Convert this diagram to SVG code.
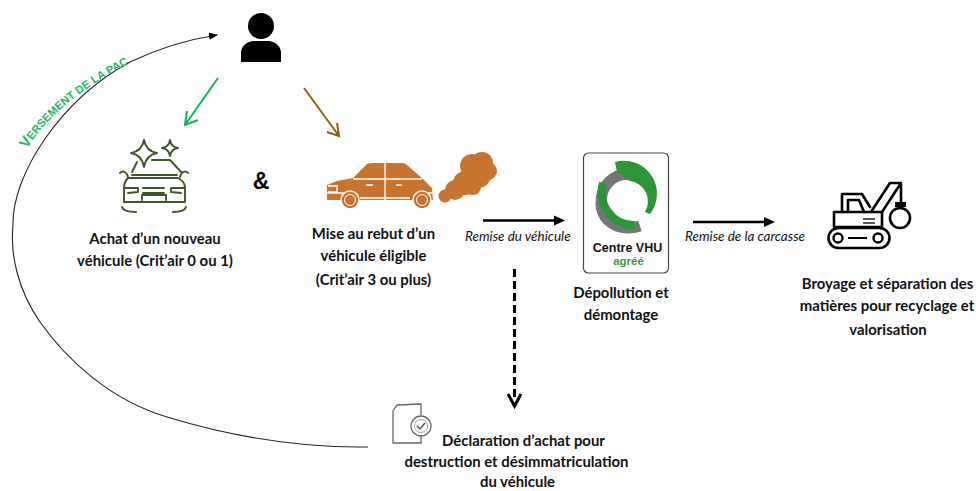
<svg xmlns="http://www.w3.org/2000/svg" width="976" height="491" viewBox="0 0 976 491">
<style>
.t{font-family:"Lato","Open Sans",sans-serif;font-weight:700;font-size:14.900px;fill:#111;text-anchor:middle}
.i{font-family:"Lato","Liberation Sans",sans-serif;font-style:italic;font-size:13.500px;fill:#111}
.g{fill:none;stroke:#3f5626;stroke-width:1.900;stroke-linecap:round;stroke-linejoin:round}
.k{fill:none;stroke:#000;stroke-width:2.600;stroke-linecap:round;stroke-linejoin:round}
.o{fill:#c8742f}
.w{fill:none;stroke:#fff;stroke-width:1.300}
</style>
<defs>
<marker id="blk" markerWidth="9" markerHeight="8" refX="8" refY="4" orient="auto" markerUnits="userSpaceOnUse"><path d="M0 .5L9 4L0 7.500Z" fill="#000"/></marker>
<path id="arc" d="M27 149C47 115 85 85 140 58"/>
</defs>
<rect width="976" height="491" fill="#fff"/>
<g id="connectors">
<path d="M368 447C300 448 233 437 167 417C110 400 67 360 40 322C18 290 10 255 13 225C12 175 60 100 130 62C155 50 185 40 217 35" fill="none" stroke="#222" stroke-width="1.100" marker-end="url(#blk)"/>
<path d="M218 78L185 125M187 111L185 125L198 120" fill="none" stroke="#12b457" stroke-width="2"/>
<path d="M304 88L339 136M337 123L339 136L327 132" fill="none" stroke="#8f6010" stroke-width="2"/>
<path d="M483 220.500L556 220.500" stroke="#000" stroke-width="2.600"/><path d="M554 215.500L565 220.500L554 225.500Z"/>
<path d="M693 222L766 222" stroke="#000" stroke-width="2.600"/><path d="M764 217L775 222L764 227Z"/>
<path d="M514.500 269L514.500 400" stroke="#000" stroke-width="3" stroke-dasharray="8 4" fill="none"/>
<path d="M508 394L514.500 406L521 394" fill="none" stroke="#000" stroke-width="3"/>
</g>
<g id="label-pac"><text font-family="Liberation Sans,sans-serif" font-size="11.200" font-weight="700" fill="#1bb864"><textPath href="#arc"><tspan font-size="15">V</tspan>ERSEMENT  DE LA PAC</textPath></text></g>
<g id="person">
<circle cx="261" cy="26" r="13" fill="#000"/>
<path d="M241 62V53C241 46 247 41 254 41H268C275 41 281 46 281 53V62Z" fill="#000"/>
</g>
<g id="new-car">
<path class="g" d="M144 140Q146 151 157 153Q146 155 144 167Q142 155 131 153Q142 151 144 140Z"/>
<path class="g" d="M170 140Q171 147 178 148Q171 149 170 156Q169 149 162 148Q169 147 170 140Z"/>
<path class="g" d="M132 172L137 162M152 160H170L182 173M132 175H177M120 173C123 170 127 172 128 177M188 173C185 170 181 172 180 177M128 178H178C182 180 185 184 185 188V202H124V188C124 184 125 181 128 178Z"/>
<path class="g" d="M124 188H138V192L128 193M185 188H171V192L181 193M143 188H164M143 193H164M142 200V195H166V200M122 207C123 211 131 212 136 212M173 212C178 212 185 211 186 207"/>
<text class="t" x="155" y="244">Achat d’un nouveau</text>
<text class="t" x="155" y="266">véhicule (Crit’air 0 ou 1)</text>
</g>
<g id="and"><text x="261" y="189" font-family="Liberation Sans,sans-serif" font-weight="700" font-size="23" fill="#000" text-anchor="middle">&amp;</text></g>
<g id="old-car">
<path class="o" d="M327 200V185L337 181L353 178L367 164Q369 163 375 163H402Q405 163 407 165L422 178L432 188L433 200Z"/>
<path class="w" d="M385 163V200M327 193H350M360 198H410M425 193H433M353 179H422M328 186H337V192H328"/>
<circle class="o" cx="350" cy="200" r="9" stroke="#fff" stroke-width="1.500"/><circle cx="350" cy="200" r="5.500" fill="none" stroke="#fff" stroke-width="1"/>
<circle class="o" cx="422" cy="200" r="9" stroke="#fff" stroke-width="1.500"/><circle cx="422" cy="200" r="5.500" fill="none" stroke="#fff" stroke-width="1"/>
<path d="M366 185H373M396 185H402" stroke="#fff" stroke-width="1.500"/>
<g class="o"><circle cx="445" cy="196" r="6.500"/><circle cx="455" cy="190" r="10"/><circle cx="465" cy="183" r="12"/><circle cx="478" cy="175" r="13"/><circle cx="472" cy="166" r="12"/><circle cx="482" cy="163" r="11"/><circle cx="488" cy="171" r="9"/><circle cx="473" cy="187" r="8"/></g>
<text class="t" x="373.500" y="239">Mise au rebut d’un</text>
<text class="t" x="373.500" y="261">véhicule éligible</text>
<text class="t" x="373.500" y="285">(Crit’air 3 ou plus)</text>
</g>
<g id="remise-vehicule"><text class="i" x="465" y="241">Remise du véhicule</text></g>
<g id="centre-vhu">
<rect x="583.500" y="153" width="85" height="120" rx="5" fill="#fff" stroke="#444" stroke-width="1.200"/>
<path d="M632 175C612 172 600 187 601 205C603 224 622 232 640 226" fill="none" stroke="#757478" stroke-width="11"/>
<path d="M603 183C597 203 612 226 635 225" fill="none" stroke="#2d9634" stroke-width="8"/>
<path d="M615 162A33 33 0 0 1 650 214L645 212A20.500 20.500 0 0 0 630 181Q623 175 617 172Z" fill="#2d9634"/>
<text x="627.500" y="252" font-family="Liberation Sans,sans-serif" font-weight="700" font-size="12.500" fill="#111" text-anchor="middle">Centre VHU</text>
<text x="628.500" y="265" font-family="Liberation Sans,sans-serif" font-weight="700" font-size="11.500" fill="#3a9a3a" text-anchor="middle">agréé</text>
<text class="t" x="621" y="298">Dépollution et</text>
<text class="t" x="621" y="320">démontage</text>
</g>
<g id="remise-carcasse"><text class="i" x="685" y="241">Remise de la carcasse</text></g>
<g id="crusher">
<path class="k" d="M871 212L890 183H901L882 212M901 184V203"/>
<path class="k" d="M842 212V194H862L870 207M848 212V200H859L864 212"/>
<path class="k" d="M834 212H882V227H834Z"/>
<rect x="895" y="202" width="11" height="5" fill="#000"/>
<circle cx="900" cy="218" r="10" fill="none" stroke="#000" stroke-width="2.600"/>
<rect x="828.500" y="228" width="61" height="20" rx="10" fill="none" stroke="#000" stroke-width="2.600"/>
<circle cx="838" cy="238" r="4.500" fill="none" stroke="#000" stroke-width="2.400"/><circle cx="878" cy="238" r="4.500" fill="none" stroke="#000" stroke-width="2.400"/>
<path d="M848 238H867" stroke="#000" stroke-width="2"/>
<path d="M863 219H875M863 223H875" stroke="#222" stroke-width="1.500"/>
<text class="t" x="887.500" y="289">Broyage et séparation des</text>
<text class="t" x="887" y="311">matières pour recyclage et</text>
<text class="t" x="888" y="335">valorisation</text>
</g>
<g id="declaration">
<path d="M393 411L397 405L421 404V415M393 411V443H421V436" fill="none" stroke="#666" stroke-width="1.300"/>
<circle cx="421" cy="426" r="10" fill="#fff" stroke="#666" stroke-width="1.300"/>
<circle cx="421" cy="426" r="6.500" fill="none" stroke="#888" stroke-width=".8"/>
<path d="M417 426L420 429L425 423" fill="none" stroke="#555" stroke-width="1.500"/>
<text class="t" x="523.500" y="446">Déclaration d’achat pour</text>
<text class="t" x="516.500" y="467">destruction et désimmatriculation</text>
<text class="t" x="517.500" y="487">du véhicule</text>
</g>
</svg>
